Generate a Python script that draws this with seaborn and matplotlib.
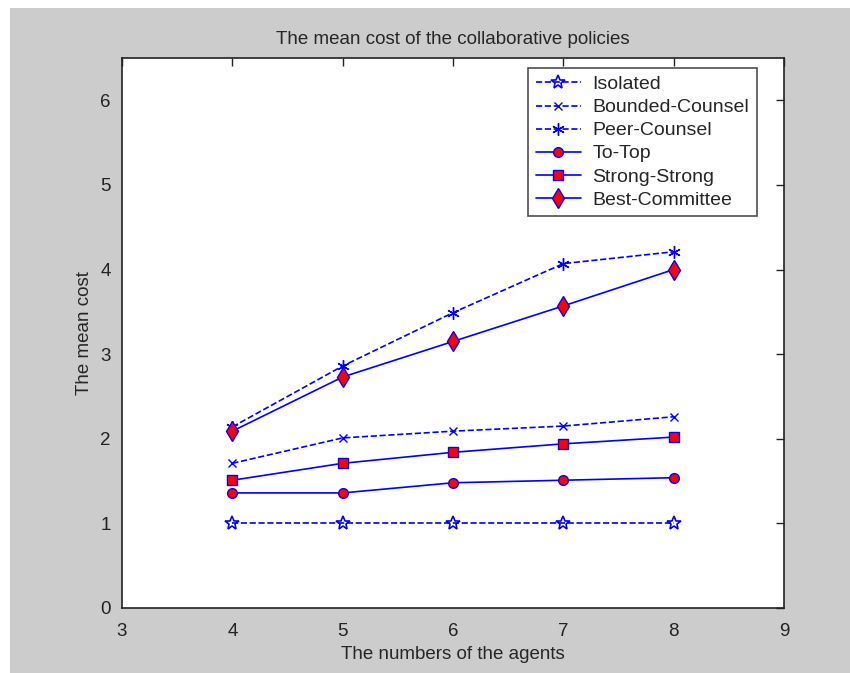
import matplotlib
matplotlib.use("Agg")
import matplotlib.pyplot as plt
import matplotlib.patches as mpatches
import seaborn as sns
import pandas as pd

agents = [4, 5, 6, 7, 8]
isolated = [1.0, 1.0, 1.0, 1.0, 1.0]
bounded_counsel = [1.71, 2.01, 2.09, 2.15, 2.26]
peer_counsel = [2.14, 2.86, 3.49, 4.07, 4.21]
to_top = [1.36, 1.36, 1.48, 1.51, 1.54]
strong_strong = [1.51, 1.71, 1.84, 1.94, 2.02]
best_committee = [2.09, 2.73, 3.15, 3.57, 4.00]

series_names = ["Isolated", "Bounded-Counsel", "Peer-Counsel",
                "To-Top", "Strong-Strong", "Best-Committee"]
series_values = [isolated, bounded_counsel, peer_counsel,
                 to_top, strong_strong, best_committee]

sns.set_style("white")
plt.rcParams["font.family"] = ["Liberation Sans", "DejaVu Sans"]

fig = plt.figure(figsize=(8.5, 6.73), dpi=100, facecolor="white")
fig.patches.append(mpatches.Rectangle((10 / 850, 0), 1 - 10 / 850, 1 - 8 / 673,
                                      transform=fig.transFigure, facecolor="#cccccc",
                                      edgecolor="none", zorder=-10))
ax = fig.add_axes([122 / 850, 1 - 608 / 673, (784 - 122) / 850, (608 - 58) / 673])
ax.set_facecolor("white")

blue = "#0000ff"
red = "#ff0000"
styles = {
    "Isolated": dict(marker="*", linestyle="--", mfc="none", mec=blue, ms=10, mew=1.2),
    "Bounded-Counsel": dict(marker="x", linestyle="--", mfc="none", mec=blue, ms=6, mew=1.0),
    "Peer-Counsel": dict(marker=(6, 2, 0), linestyle="--", mfc="none", mec=blue, ms=9, mew=1.0),
    "To-Top": dict(marker="o", linestyle="-", mfc=red, mec=blue, ms=7, mew=1.0),
    "Strong-Strong": dict(marker="s", linestyle="-", mfc=red, mec=blue, ms=7, mew=1.0),
    "Best-Committee": dict(marker="d", linestyle="-", mfc=red, mec=blue, ms=10, mew=1.0),
}

for name, vals in zip(series_names, series_values):
    df = pd.DataFrame({"agents": agents, "cost": vals})
    st = styles[name]
    sns.lineplot(data=df, x="agents", y="cost", ax=ax, color=blue, lw=1.2,
                 label=name, marker=st["marker"], linestyle=st["linestyle"],
                 markerfacecolor=st["mfc"], markeredgecolor=st["mec"],
                 markersize=st["ms"], markeredgewidth=st["mew"],
                 dashes=False if st["linestyle"] == "-" else (3, 3))

ax.set_xlim(3, 9)
ax.set_ylim(0, 6.5)
ax.set_xticks([3, 4, 5, 6, 7, 8, 9])
ax.set_yticks([0, 1, 2, 3, 4, 5, 6])
ax.tick_params(direction="in", length=6, width=1, colors="#222222",
               top=True, right=True, labelsize=13.5)
ax.tick_params(axis="x", pad=11)
ax.tick_params(axis="y", pad=8)
for s in ax.spines.values():
    s.set_visible(True)
    s.set_color("#222222")
    s.set_linewidth(1.2)

ax.set_title("The mean cost of the collaborative policies", fontsize=13.5, pad=10)
ax.set_xlabel("The numbers of the agents", fontsize=13.5, labelpad=4)
ax.set_ylabel("The mean cost", fontsize=13.5, labelpad=5)

leg = ax.legend(loc="upper right", bbox_to_anchor=(0.959, 0.982), borderaxespad=0,
                fontsize=14, frameon=True, fancybox=False, edgecolor="#222222",
                handlelength=2.3, borderpad=0.4, labelspacing=0.28, handletextpad=0.6)
leg.get_frame().set_linewidth(1.2)

fig.savefig("out.png", dpi=100, facecolor=fig.get_facecolor())
